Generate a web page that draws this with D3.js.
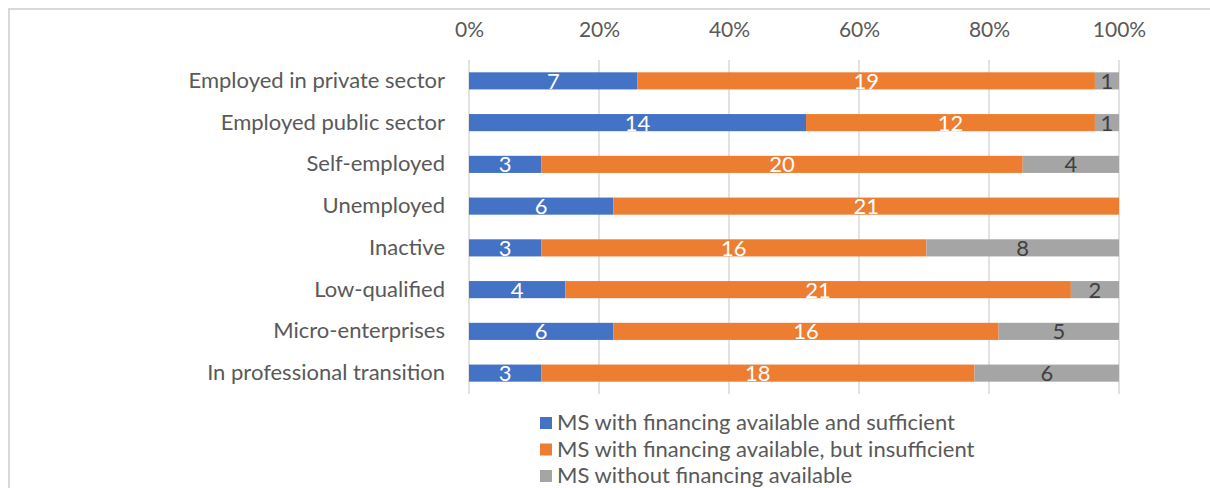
<!DOCTYPE html>
<html><head><meta charset="utf-8">
<script src="https://cdn.jsdelivr.net/npm/d3@7"></script>
<style>
html,body{margin:0;padding:0;background:#fff;}
svg{display:block;font-family:Lato, "Liberation Sans", sans-serif;}
</style></head>
<body>
<svg id="chart" width="1210" height="488"></svg>
<script>
const categories = ["Employed in private sector","Employed public sector","Self-employed","Unemployed","Inactive","Low-qualified","Micro-enterprises","In professional transition"];
const seriesNames = ["MS with financing available and sufficient","MS with financing available, but insufficient","MS without financing available"];
const sufficient = [7,14,3,6,3,4,6,3];
const insufficient = [19,12,20,21,16,21,16,18];
const noFinancing = [1,1,4,0,8,2,5,6];
const tickValues = [0,0.2,0.4,0.6,0.8,1];
const colors = ["#4472C4","#ED7D31","#A5A5A5"];
const labelColors = ["#ffffff","#ffffff","#404040"];

const svg = d3.select("#chart");
// frame
svg.append("path").attr("d","M9,488 V9 H1210").attr("fill","none").attr("stroke","#d9d9d9").attr("stroke-width",2);

const x = d3.scaleLinear().domain([0,1]).range([469,1119]);
const y = d3.scaleBand().domain(categories).range([60,394]).paddingInner(0.59).paddingOuter(0.295);

// gridlines
svg.append("g").selectAll("line").data(tickValues).join("line")
  .attr("x1",d=>x(d)).attr("x2",d=>x(d)).attr("y1",60).attr("y2",394)
  .attr("stroke","#d9d9d9").attr("stroke-width",1.5);

// top axis labels
const xAxis = d3.axisTop(x).tickValues(tickValues).tickFormat(d3.format(".0%")).tickSize(0).tickPadding(0);
const gx = svg.append("g").attr("transform","translate(0,36.5)").call(xAxis);
gx.select(".domain").remove();
gx.selectAll("text").attr("fill","#595959").attr("font-size",21).attr("font-family","Lato, sans-serif");

// category axis
const yAxis = d3.axisLeft(y).tickSize(0).tickPadding(0);
const gy = svg.append("g").attr("transform","translate(445,0)").call(yAxis);
gy.select(".domain").remove();
gy.selectAll("text").attr("fill","#595959").attr("font-size",22).attr("font-family","Lato, sans-serif");

const rows = categories.map((c,i)=>({cat:c, vals:[sufficient[i],insufficient[i],noFinancing[i]]}));
const stackData = rows.map(r=>{
  const tot = d3.sum(r.vals);
  let acc = 0;
  return r.vals.map((v,k)=>{const s={cat:r.cat,k,v,x0:acc/tot,x1:(acc+v)/tot}; acc+=v; return s;});
}).flat();

svg.append("g").selectAll("rect").data(stackData.filter(d=>d.v>0)).join("rect")
  .attr("x",d=>x(d.x0)).attr("width",d=>x(d.x1)-x(d.x0))
  .attr("y",d=>y(d.cat)).attr("height",y.bandwidth())
  .attr("fill",d=>colors[d.k]);

svg.append("g").selectAll("text").data(stackData.filter(d=>d.v>0)).join("text")
  .attr("x",d=>(x(d.x0)+x(d.x1))/2).attr("y",d=>y(d.cat)+y.bandwidth()/2)
  .attr("dy","0.36em").attr("text-anchor","middle")
  .attr("font-size",22).attr("fill",d=>labelColors[d.k]).text(d=>d.v);

// legend
const lg = svg.append("g").selectAll("g").data(seriesNames).join("g")
  .attr("transform",(d,i)=>`translate(540,${423+i*26.5})`);
lg.append("rect").attr("x",0).attr("y",-6).attr("width",12).attr("height",12).attr("fill",(d,i)=>colors[i]);
lg.append("text").attr("x",17).attr("dy","0.34em").attr("font-size",22).attr("fill","#595959").text(d=>d);
</script>
</body></html>
